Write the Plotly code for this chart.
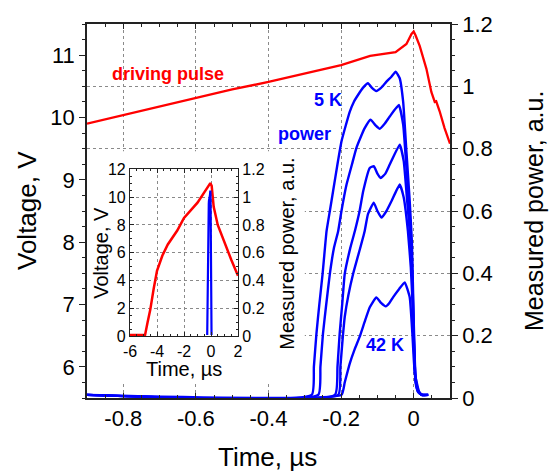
import plotly.graph_objects as go

# ---------------- data ----------------
# main panel: driving pulse voltage (left axis, V) vs time (µs)
pulse_t = [-0.9, -0.8, -0.7, -0.6, -0.5, -0.4, -0.3, -0.2, -0.12, -0.05, -0.02,
           -0.006, 0.0, 0.005, 0.0165, 0.035, 0.0486, 0.058, 0.062, 0.0715, 0.085, 0.1]
pulse_v = [9.9, 10.04, 10.18, 10.32, 10.45, 10.57, 10.7, 10.84, 10.99, 11.05, 11.18,
           11.34, 11.38, 11.32, 11.15, 10.78, 10.41, 10.25, 10.26, 10.1, 9.83, 9.58]

# main panel: measured power (right axis, a.u.) for 5 temperatures, 5 K ... 42 K
p5k_t = [-0.9, -0.281, -0.275, -0.268, -0.26, -0.251, -0.24, -0.231, -0.222, -0.21,
         -0.199, -0.187, -0.176, -0.165, -0.153, -0.14, -0.126, -0.115, -0.103, -0.09,
         -0.075, -0.062, -0.0495, -0.0385, -0.029, -0.02, -0.011, -0.005, 0.0, 0.005,
         0.012, 0.022, 0.04]
p5k_p = [0.01, 0.01, 0.1, 0.206, 0.3, 0.398, 0.536, 0.6, 0.664, 0.75,
         0.823, 0.875, 0.919, 0.95, 0.973, 0.995, 1.01, 0.995, 0.985, 0.995,
         1.015, 1.03, 1.047, 1.026, 0.95, 0.79, 0.632, 0.5, 0.25, 0.07,
         0.025, 0.01, 0.01]

p2_t = [-0.9, -0.263, -0.257, -0.25, -0.241, -0.231, -0.22, -0.208, -0.199, -0.185,
        -0.17, -0.158, -0.145, -0.135, -0.119, -0.105, -0.0935, -0.08, -0.066, -0.041,
        -0.029, -0.02, -0.011, -0.005, 0.0, 0.005, 0.012, 0.022, 0.04]
p2_p = [0.01, 0.01, 0.1, 0.206, 0.3, 0.398, 0.48, 0.536, 0.6, 0.685,
        0.75, 0.802, 0.84, 0.866, 0.893, 0.875, 0.864, 0.88, 0.903, 0.94,
        0.877, 0.738, 0.579, 0.45, 0.22, 0.06, 0.022, 0.01, 0.01]

p3_t = [-0.9, -0.217, -0.21, -0.204, -0.197, -0.19, -0.175, -0.162, -0.149, -0.139,
        -0.121, -0.11, -0.1, -0.091, -0.078, -0.066, -0.0385, -0.0275, -0.018, -0.01,
        -0.004, 0.0, 0.005, 0.012, 0.022, 0.04]
p3_p = [0.01, 0.01, 0.1, 0.206, 0.3, 0.398, 0.48, 0.536, 0.6, 0.664,
        0.738, 0.744, 0.72, 0.706, 0.72, 0.749, 0.813, 0.76, 0.632, 0.52,
        0.38, 0.2, 0.06, 0.02, 0.01, 0.01]

p4_t = [-0.9, -0.208, -0.202, -0.195, -0.19, -0.18, -0.167, -0.15, -0.135, -0.126,
        -0.11, -0.1, -0.089, -0.075, -0.061, -0.0385, -0.0275, -0.016, -0.008, -0.003,
        0.001, 0.005, 0.012, 0.022, 0.04]
p4_p = [0.01, 0.01, 0.1, 0.2, 0.26, 0.33, 0.398, 0.47, 0.536, 0.59,
        0.627, 0.6, 0.579, 0.6, 0.632, 0.685, 0.643, 0.536, 0.42, 0.3,
        0.15, 0.05, 0.02, 0.01, 0.01]

p42k_t = [-0.9, -0.199, -0.19, -0.176, -0.163, -0.149, -0.135, -0.121, -0.103, -0.09,
          -0.077, -0.067, -0.057, -0.04, -0.0248, -0.011, -0.0037, 0.003, 0.0165, 0.026,
          0.04]
p42k_p = [0.01, 0.01, 0.05, 0.111, 0.155, 0.196, 0.245, 0.291, 0.323, 0.305,
          0.294, 0.305, 0.323, 0.35, 0.371, 0.323, 0.207, 0.08, 0.015, 0.01,
          0.01]

power_t = [p5k_t, p2_t, p3_t, p4_t, p42k_t]
power_p = [p5k_p, p2_p, p3_p, p4_p, p42k_p]

# inset: full driving pulse (V) and 5 K power on a longer time scale (µs)
inset_pulse_t = [-6.0, -4.885, -4.7, -4.5, -4.25, -4.0, -3.6, -3.2, -2.5, -2.0,
                 -1.0, -0.5, -0.05, 0.05, 0.2, 0.5, 1.0, 1.5, 2.0]
inset_pulse_v = [0.1, 0.1, 1.0, 1.9, 3.4, 4.7, 5.8, 6.6, 7.6, 8.5,
                 9.6, 10.3, 11.0, 10.8, 9.3, 8.0, 6.7, 5.5, 4.35]

# tick labels
main_xticks = [-0.8, -0.6, -0.4, -0.2, 0.0]
main_xtext = ["-0.8", "-0.6", "-0.4", "-0.2", "0"]
inset_xticks = [-6, -4, -2, 0, 2]
inset_xtext = ["-6", "-4", "-2", "0", "2"]

# ---------------- figure ----------------
RED = "#ff0000"
BLUE = "#0000ff"
FONT = "Liberation Sans, Arial, sans-serif"
W, H = 551, 472
L, R, T, B = 87, 101, 22, 74
PW, PH = W - L - R, H - T - B


def px(x, y):
    return (x - L) / PW, (H - B - y) / PH


fig = go.Figure()

fig.add_trace(go.Scatter(x=pulse_t, y=pulse_v, mode="lines",
                         line=dict(color=RED, width=2.3),
                         xaxis="x", yaxis="y", showlegend=False))
for tt, pp in zip(power_t, power_p):
    fig.add_trace(go.Scatter(x=tt, y=pp, mode="lines",
                             line=dict(color=BLUE, width=2.4, shape="spline", smoothing=0.4),
                             xaxis="x", yaxis="y2", showlegend=False))

# inset traces
fig.add_trace(go.Scatter(x=inset_pulse_t, y=inset_pulse_v, mode="lines",
                         line=dict(color=RED, width=2.5),
                         xaxis="x3", yaxis="y3", showlegend=False))
ins_t = [t for t in p5k_t if t > -0.3]
ins_p = [p for t, p in zip(p5k_t, p5k_p) if t > -0.3]
fig.add_trace(go.Scatter(x=ins_t, y=ins_p, mode="lines",
                         line=dict(color=BLUE, width=2.2),
                         xaxis="x3", yaxis="y4", showlegend=False))

grid = dict(showgrid=True, gridcolor="#8a8a8a", griddash="dot", gridwidth=1)
axline = dict(showline=True, linecolor="#222", linewidth=1.5, zeroline=False,
              tickcolor="#222", tickfont=dict(family=FONT, size=22, color="black"))

ix0, iy0 = px(130, 336)
ix1, iy1 = px(238, 168)

fig.update_layout(
    width=W, height=H, autosize=False,
    margin=dict(l=L, r=R, t=T, b=B),
    paper_bgcolor="white", plot_bgcolor="white",
    xaxis=dict(domain=[0, 1], range=[-0.9, 0.1], tickvals=main_xticks, ticktext=main_xtext,
               ticks="inside", ticklen=5, mirror="ticks",
               minor=dict(dtick=0.05, ticks="inside", ticklen=3, tickcolor="#222", showgrid=False),
               anchor="y", **grid, **axline),
    yaxis=dict(range=[5.5, 11.5], dtick=1, ticks="outside", ticklen=6, showgrid=False,
               minor=dict(dtick=0.25, ticks="outside", ticklen=3, tickcolor="#222"),
               anchor="x", **axline),
    yaxis2=dict(range=[0, 1.2], dtick=0.2, overlaying="y", side="right", anchor="x",
                ticks="outside", ticklen=6,
                minor=dict(dtick=0.05, ticks="outside", ticklen=3, tickcolor="#222", showgrid=False),
                **grid, **axline),
    xaxis3=dict(domain=[ix0, ix1], range=[-6, 2], tickvals=inset_xticks, ticktext=inset_xtext,
                ticks="inside", ticklen=4, mirror="ticks", anchor="y3",
                minor=dict(dtick=0.5, ticks="inside", ticklen=2, tickcolor="#222", showgrid=False),
                **grid, **{**axline, "linewidth": 1.2, "tickfont": dict(family=FONT, size=16, color="black")}),
    yaxis3=dict(domain=[iy0, iy1], range=[0, 12], dtick=2, anchor="x3",
                ticks="inside", ticklen=4,
                minor=dict(dtick=0.5, ticks="inside", ticklen=2, tickcolor="#222", showgrid=False),
                **grid, **{**axline, "linewidth": 1.2, "tickfont": dict(family=FONT, size=16, color="black")}),
    yaxis4=dict(range=[0, 1.2], dtick=0.2, overlaying="y3", side="right", anchor="x3",
                ticks="inside", ticklen=4, showgrid=False,
                minor=dict(dtick=0.05, ticks="inside", ticklen=2, tickcolor="#222"),
                **{**axline, "linewidth": 1.2, "tickfont": dict(family=FONT, size=16, color="black")}),
)

# white panel behind the inset, hiding the main grid there
fig.add_shape(type="rect", xref="x", yref="y", x0=-0.905, x1=-0.30, y0=5.75, y1=9.46,
              fillcolor="white", line=dict(width=0), layer="between")


def note(text, x, y, size, color="black", bold=False, angle=0):
    ax, ay = px(x, y)
    fig.add_annotation(text=f"<b>{text}</b>" if bold else text, x=ax, y=ay,
                       xref="paper", yref="paper", showarrow=False,
                       xanchor="center", yanchor="middle", textangle=angle,
                       font=dict(family=FONT, size=size, color=color))


note("Voltage, V", 27, 210, 26, angle=-90)
note("Time, µs", 267, 457, 26)
note("Measured power, a.u.", 534, 210, 25, angle=-90)
note("driving pulse", 168, 72, 18, RED, bold=True)
note("5 K", 328, 98, 18, BLUE, bold=True)
note("power", 304, 133, 18, BLUE, bold=True)
note("42 K", 385, 345, 18, BLUE, bold=True)
note("Voltage, V", 101, 252, 20, angle=-90)
note("Time, µs", 184, 369, 20)
note("Measured power, a.u.", 287, 253, 20, angle=-90)

fig.write_html("out.html")
